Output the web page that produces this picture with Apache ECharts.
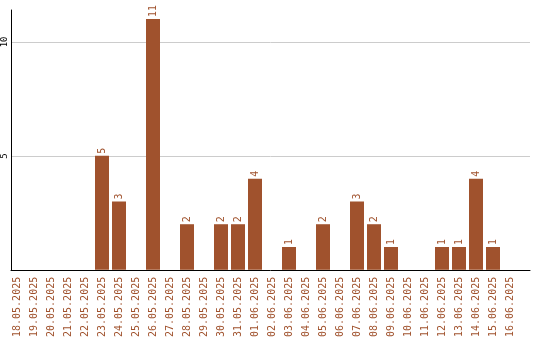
<!DOCTYPE html>
<html>
<head>
<meta charset="utf-8">
<script src="https://cdn.jsdelivr.net/npm/echarts@6/dist/echarts.min.js"></script>
<style>html,body{margin:0;padding:0;background:#fff}#c{width:540px;height:340px}</style>
</head>
<body>
<div id="c"></div>
<script>
const categories = ["18.05.2025","19.05.2025","20.05.2025","21.05.2025","22.05.2025","23.05.2025","24.05.2025","25.05.2025","26.05.2025","27.05.2025","28.05.2025","29.05.2025","30.05.2025","31.05.2025","01.06.2025","02.06.2025","03.06.2025","04.06.2025","05.06.2025","06.06.2025","07.06.2025","08.06.2025","09.06.2025","10.06.2025","11.06.2025","12.06.2025","13.06.2025","14.06.2025","15.06.2025","16.06.2025"];
const counts = [0,0,0,0,0,5,3,0,11,0,2,0,2,2,4,0,1,0,2,0,3,2,1,0,0,1,1,4,1,0];
const yTicks = [0,5,10];

const COLOR = '#a0522d';
const FONT = 'DejaVu Sans Mono';
const chart = echarts.init(document.getElementById('c'), null, {renderer:'canvas'});
chart.setOption({
  animation:false,
  backgroundColor:'#fff',
  grid:[
    {left:10, right:10, top:10, bottom:70},
    {left:8.5, width:510, top:10, bottom:70}
  ],
  xAxis:[
    {gridIndex:0, type:'value', min:0, max:1, axisLine:{show:true, onZero:false, lineStyle:{color:'#000', width:1}}, axisTick:{show:false}, axisLabel:{show:false}, splitLine:{show:false}},
    {gridIndex:1, type:'category', data:categories, axisLine:{show:false}, axisTick:{show:false},
     axisLabel:{interval:0, rotate:90, margin:7, color:COLOR, fontFamily:FONT, fontSize:10}}
  ],
  yAxis:[
    {gridIndex:0, type:'value', min:0, max:11.4, interval:5,
     axisLine:{show:true, lineStyle:{color:'#000', width:1}}, axisTick:{show:false},
     axisLabel:{rotate:90, margin:2, color:'#000', fontFamily:FONT, fontSize:9, showMaxLabel:false, showMinLabel:false,
       formatter:v=> yTicks.indexOf(v)>0 ? String(v) : ''},
     splitLine:{show:true, showMinLine:false, showMaxLine:false, lineStyle:{color:'#cccccc', width:1}}},
    {gridIndex:1, type:'value', min:0, max:11.4, show:false, splitLine:{show:false}}
  ],
  series:[{
    type:'bar', xAxisIndex:1, yAxisIndex:1, data:counts, barWidth:14,
    itemStyle:{color:COLOR},
    label:{show:true, position:'top', rotate:90, align:'left', verticalAlign:'middle', distance:2,
      color:COLOR, fontFamily:FONT, fontSize:10, formatter:p=> p.value>0 ? String(p.value) : ''}
  }]
});
</script>
</body>
</html>
